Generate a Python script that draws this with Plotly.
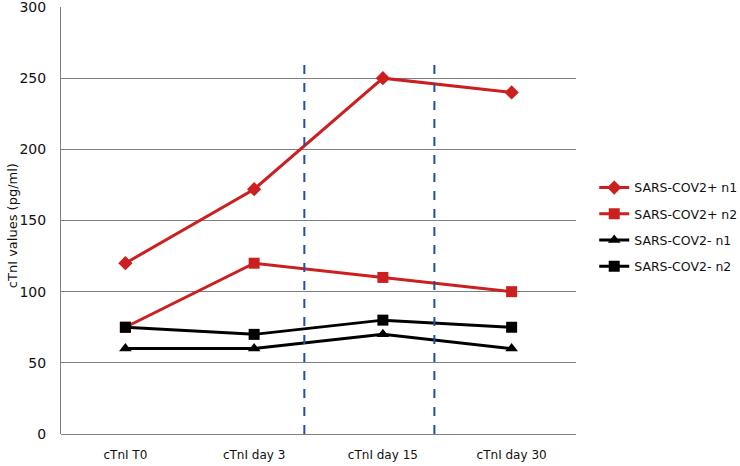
import plotly.graph_objects as go

# -----------------------------------------------------
# DATA
# -----------------------------------------------------

timepoints = ["cTnI T0", "cTnI day 3", "cTnI day 15", "cTnI day 30"]

pos_n1 = [120, 172, 250, 240]
pos_n2 = [75, 120, 110, 100]
neg_n1 = [60, 60, 70, 60]
neg_n2 = [75, 70, 80, 75]

series_names = ["SARS-COV2+ n1", "SARS-COV2+ n2", "SARS-COV2- n1", "SARS-COV2- n2"]
y_ticks = [0, 50, 100, 150, 200, 250, 300]

RED = "#cc1f1f"
BLACK = "#000000"
FONT = "DejaVu Sans, Verdana, sans-serif"

# -----------------------------------------------------
# FIGURE
# -----------------------------------------------------

fig = go.Figure()

styles = [
    (pos_n1, RED, "diamond", 11),
    (pos_n2, RED, "square", 11),
    (neg_n1, BLACK, "triangle-up", 11),
    (neg_n2, BLACK, "square", 11),
]

for name, (vals, color, symbol, size) in zip(series_names, styles):
    fig.add_trace(go.Scatter(
        x=timepoints,
        y=vals,
        name=name,
        legendgroup=name,
        mode="lines+markers",
        line=dict(color=color, width=3),
        marker=dict(symbol=symbol, size=size, color=color),
    ))

# blue dashed separators between time windows
for xpos in [1.39, 2.4]:
    fig.add_shape(
        type="line", xref="x", yref="y",
        x0=xpos, x1=xpos, y0=0, y1=265,
        line=dict(color="#1f4fa8", width=2, dash="dash"),
    )

# y axis title as a rotated annotation (placed like the original)
fig.add_annotation(
    text="cTnI values (pg/ml)",
    xref="paper", yref="paper",
    x=-0.095, y=0.487,
    xanchor="center", yanchor="middle",
    textangle=-90, showarrow=False,
    font=dict(size=13, color="#111"),
)

fig.update_layout(
    width=740,
    height=466,
    plot_bgcolor="white",
    paper_bgcolor="white",
    margin=dict(l=61, r=164, t=7, b=32),
    font=dict(family=FONT, size=12, color="#222"),
    showlegend=True,
    legend=dict(
        xref="container", yref="container",
        x=0.803, y=0.513, xanchor="left", yanchor="middle",
        font=dict(size=12.5, color="#111"),
        tracegroupgap=7,
        itemwidth=30,
    ),
    xaxis=dict(
        range=[-0.5, 3.5],
        showgrid=False,
        showline=False,
        ticks="",
        automargin=False,
        ticklabelstandoff=12,
        tickfont=dict(size=12, color="#111"),
    ),
    yaxis=dict(
        range=[0, 300],
        tickvals=y_ticks,
        showgrid=True,
        gridcolor="#7f7f7f",
        gridwidth=1,
        zeroline=True,
        zerolinecolor="#7f7f7f",
        zerolinewidth=1,
        showline=True,
        linecolor="#7f7f7f",
        linewidth=1,
        ticks="",
        automargin=False,
        ticklabelstandoff=11,
        ticklabeloverflow="allow",
        tickfont=dict(size=14, color="#111"),
    ),
)

# drop the page's default body margin so the figure sits at the window corner
fig.write_html(
    "out.html",
    config={"displayModeBar": False},
    post_script="document.body.style.margin='0';",
)
